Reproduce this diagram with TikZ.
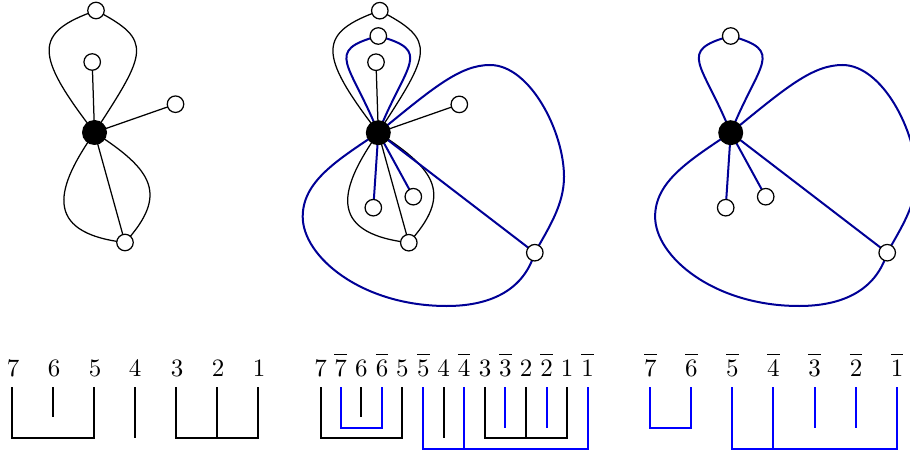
\documentclass[tikz,border=0pt]{standalone}
\usepackage{amsmath}
\usetikzlibrary{backgrounds}
\definecolor{navy}{RGB}{0,0,150}
\newcommand{\ob}[1]{\overline{\rule{0pt}{7.2pt}#1}}
\begin{document}
\begin{tikzpicture}[x=0.4pt,y=-0.4pt,
  bnode/.style={circle,fill=black,minimum size=10pt,inner sep=0pt},
  wnode/.style={circle,draw,fill=white,line width=0.5pt,minimum size=6.6pt,inner sep=0pt},
  bedge/.style={line width=0.5pt},
  nedge/.style={draw=navy,line width=0.8pt},
  kbar/.style={line width=0.8pt},
  ubar/.style={line width=0.8pt,draw=blue},
  lbl/.style={anchor=base,inner sep=0pt,font=\fontsize{10.2}{12}\selectfont}]
\useasboundingbox (0,0) rectangle (910,452);

% ---------- graph 1 ----------
\begin{scope}[shift={(94.5,132.5)}]
  \node[bnode] (ac) at (0,0) {};
  \node[wnode] (at) at (1.5,-122) {};
  \node[wnode] (ai) at (-2.3,-70.5) {};
  \node[wnode] (ar) at (81,-28.3) {};
  \node[wnode] (ab) at (30.5,110) {};
  \begin{scope}[on background layer]
  \draw[bedge] (ac.center) .. controls +(-61,-79) and +(-62,22) .. (at.center);
  \draw[bedge] (at.center) .. controls +(58,30) and +(52,-80) .. (ac.center);
  \draw[bedge] (ac.center) .. controls +(-37,53) and +(-85,-10) .. (ab.center);
  \draw[bedge] (ab.center) .. controls +(43.5,-48) and +(58.8,37.8) .. (ac.center);
  \draw[bedge] (ac.center) -- (ai.center);
  \draw[bedge] (ac.center) -- (ar.center);
  \draw[bedge] (ac.center) -- (ab.center);
  \end{scope}
\end{scope}

% ---------- graph 2 ----------
\begin{scope}[shift={(378.3,132.7)}]
  \node[bnode] (bc) at (0,0) {};
  \node[wnode] (bt) at (1.5,-122) {};
  \node[wnode] (bs) at (0,-96.7) {};
  \node[wnode] (bi) at (-2.3,-70.5) {};
  \node[wnode] (br) at (81,-28.3) {};
  \node[wnode] (bb) at (30.5,110) {};
  \node[wnode] (bl) at (-5,75) {};
  \node[wnode] (bm) at (35,64) {};
  \node[wnode] (bg) at (156.5,120) {};
  \coordinate (bw1) at (-75.6,84);
  \coordinate (bw2) at (68.4,173.3);
  \coordinate (bw3) at (185.7,44);
  \coordinate (bw4) at (111.7,-67.7);
  \begin{scope}[on background layer]
  \draw[bedge] (bc.center) .. controls +(-61,-79) and +(-62,22) .. (bt.center);
  \draw[bedge] (bt.center) .. controls +(58,30) and +(52,-80) .. (bc.center);
  \draw[bedge] (bc.center) .. controls +(-37,53) and +(-85,-10) .. (bb.center);
  \draw[bedge] (bb.center) .. controls +(43.5,-48) and +(58.8,37.8) .. (bc.center);
  \draw[bedge] (bc.center) -- (bi.center);
  \draw[bedge] (bc.center) -- (br.center);
  \draw[bedge] (bc.center) -- (bb.center);
  \draw[nedge] (bc.center) .. controls +(-28,-70) and +(-55,15) .. (bs.center);
  \draw[nedge] (bs.center) .. controls +(55,15) and +(28,-70) .. (bc.center);
  \draw[nedge] (bc.center) .. controls +(-42,28) and +(0,-35) .. (bw1)
                           .. controls +(0,40) and +(-85,0) .. (bw2)
                           .. controls +(40,0) and +(-12,40) .. (bg.center);
  \draw[nedge] (bg.center) .. controls +(14,-25) and +(0,28) .. (bw3)
                           .. controls +(0,-45) and +(40,0) .. (bw4)
                           .. controls +(-30,0) and +(55,-45) .. (bc.center);
  \draw[nedge] (bc.center) -- (bl.center);
  \draw[nedge] (bc.center) -- (bm.center);
  \draw[nedge] (bc.center) -- (bg.center);
  \end{scope}
\end{scope}

% ---------- graph 3 ----------
\begin{scope}[shift={(730.7,132.7)}]
  \node[bnode] (cc) at (0,0) {};
  \node[wnode] (cs) at (0,-96.7) {};
  \node[wnode] (cl) at (-5,75) {};
  \node[wnode] (cm) at (35,64) {};
  \node[wnode] (cg) at (156.5,120) {};
  \coordinate (cw1) at (-75.6,84);
  \coordinate (cw2) at (68.4,173.3);
  \coordinate (cw3) at (185.7,44);
  \coordinate (cw4) at (111.7,-67.7);
  \begin{scope}[on background layer]
  \draw[nedge] (cc.center) .. controls +(-28,-70) and +(-55,15) .. (cs.center);
  \draw[nedge] (cs.center) .. controls +(55,15) and +(28,-70) .. (cc.center);
  \draw[nedge] (cc.center) .. controls +(-42,28) and +(0,-35) .. (cw1)
                           .. controls +(0,40) and +(-85,0) .. (cw2)
                           .. controls +(40,0) and +(-12,40) .. (cg.center);
  \draw[nedge] (cg.center) .. controls +(14,-25) and +(0,28) .. (cw3)
                           .. controls +(0,-45) and +(40,0) .. (cw4)
                           .. controls +(-30,0) and +(55,-45) .. (cc.center);
  \draw[nedge] (cc.center) -- (cl.center);
  \draw[nedge] (cc.center) -- (cm.center);
  \draw[nedge] (cc.center) -- (cg.center);
  \end{scope}
\end{scope}

% ---------- left chord diagram ----------
\node[lbl] (p7) at (13,376) {$7$};
\node[lbl] (p6) at (54,376) {$6$};
\node[lbl] (p5) at (95,376) {$5$};
\node[lbl] (p4) at (135,376) {$4$};
\node[lbl] (p3) at (177,376) {$3$};
\node[lbl] (p2) at (218,376) {$2$};
\node[lbl] (p1) at (259,376) {$1$};
\draw[kbar] (12,387) -- (12,438) -- (94.3,438) -- (94.3,387);
\draw[kbar] (52.7,387) -- (52.7,417);
\draw[kbar] (135,387) -- (135,438);
\draw[kbar] (176,387) -- (176,438) -- (258,438) -- (258,387);
\draw[kbar] (217,387) -- (217,438);

% ---------- middle chord diagram ----------
\node[lbl] (q7)  at (320.7,376) {$7$};
\node[lbl] (q7b) at (340.7,376) {$\ob{7}$};
\node[lbl] (q6)  at (361.3,376) {$6$};
\node[lbl] (q6b) at (382,376)   {$\ob{6}$};
\node[lbl] (q5)  at (402.3,376) {$5$};
\node[lbl] (q5b) at (423.3,376) {$\ob{5}$};
\node[lbl] (q4)  at (443.7,376) {$4$};
\node[lbl] (q4b) at (464,376)   {$\ob{4}$};
\node[lbl] (q3)  at (485,376)   {$3$};
\node[lbl] (q3b) at (505.3,376) {$\ob{3}$};
\node[lbl] (q2)  at (526,376)   {$2$};
\node[lbl] (q2b) at (546.7,376) {$\ob{2}$};
\node[lbl] (q1)  at (567,376)   {$1$};
\node[lbl] (q1b) at (587.7,376) {$\ob{1}$};
\draw[kbar] (320.7,387) -- (320.7,438) -- (402.3,438) -- (402.3,387);
\draw[ubar] (340.7,387) -- (340.7,428) -- (382,428) -- (382,387);
\draw[kbar] (361.3,387) -- (361.3,417);
\draw[ubar] (423.3,387) -- (423.3,449) -- (587.7,449) -- (587.7,387);
\draw[ubar] (464,387) -- (464,449);
\draw[kbar] (443.7,387) -- (443.7,438);
\draw[kbar] (485,387) -- (485,438) -- (567,438) -- (567,387);
\draw[kbar] (526,387) -- (526,438);
\draw[ubar] (505.3,387) -- (505.3,428);
\draw[ubar] (546.7,387) -- (546.7,428);

% ---------- right chord diagram ----------
\node[lbl] (r7b) at (650.3,376) {$\ob{7}$};
\node[lbl] (r6b) at (691.3,376) {$\ob{6}$};
\node[lbl] (r5b) at (732.3,376) {$\ob{5}$};
\node[lbl] (r4b) at (773.3,376) {$\ob{4}$};
\node[lbl] (r3b) at (814.7,376) {$\ob{3}$};
\node[lbl] (r2b) at (856,376)   {$\ob{2}$};
\node[lbl] (r1b) at (897,376)   {$\ob{1}$};
\draw[ubar] (650.3,387) -- (650.3,428) -- (691.3,428) -- (691.3,387);
\draw[ubar] (732.3,387) -- (732.3,449) -- (897,449) -- (897,387);
\draw[ubar] (773.3,387) -- (773.3,449);
\draw[ubar] (814.7,387) -- (814.7,428);
\draw[ubar] (856,387) -- (856,428);
\end{tikzpicture}
\end{document}
